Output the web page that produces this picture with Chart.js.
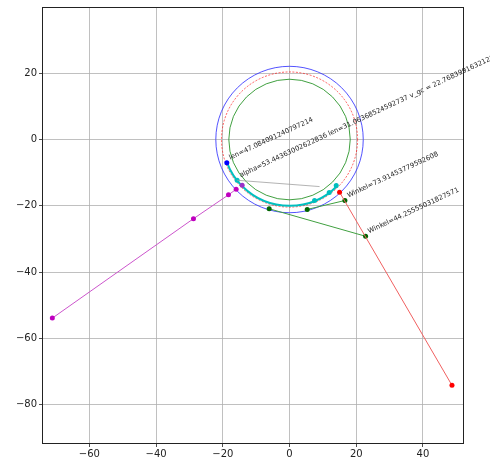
<!DOCTYPE html>
<html>
<head>
<meta charset="utf-8">
<script src="https://cdn.jsdelivr.net/npm/chart.js@4.4.1/dist/chart.umd.min.js"></script>
<style>
  html, body { margin: 0; padding: 0; background: #fff; }
</style>
</head>
<body>
<canvas id="myChart" width="490" height="463"></canvas>
<script>
// tick labels
const xTicks = [-60, -40, -20, 0, 20, 40];
const yTicks = [-80, -60, -40, -20, 0, 20];

// circles around the origin (radius)
const blueCircleR = 22.1;
const redCircleR = 20.4;
const greenCircleR = 18.2;
// cyan arc: radius, start / end angle in degrees
const cyanArcR = 20.0;
const cyanArcAngles = [200.4, 315.2];

// series
const magentaPath = [
    { x: -71.1, y: -53.9 }, { x: -28.8, y: -23.9 },
    { x: -18.3, y: -16.7 }, { x: -16.0, y: -15.0 }
];
const purplePoint = [{ x: -14.2, y: -13.8 }];
const redPath = [{ x: 15.0, y: -15.9 }, { x: 48.7, y: -74.2 }];
const greenPathA = [{ x: -6.1, y: -20.9 }, { x: 22.8, y: -29.2 }];
const greenPathB = [{ x: 5.3, y: -21.1 }, { x: 16.6, y: -18.4 }];
const cyanPoints = [
    { x: -15.7, y: -12.3 }, { x: 7.5, y: -18.4 },
    { x: 11.9, y: -16.0 }, { x: 14.0, y: -13.9 }
];
const bluePoint = [{ x: -18.8, y: -7.0 }];
const grayPath = [{ x: -15.7, y: -12.3 }, { x: 9.0, y: -14.2 }];

// annotations (text, anchor point)
const notes = [
    { text: 'len=47.084091240797214', x: -18.8, y: -7.0 },
    { text: 'alpha=53.44363002622836 len=31.06368524592737 v_gc = 22.768399163212337', x: -15.7, y: -12.3 },
    { text: 'Winkel=73.91453779592608', x: 16.6, y: -18.4 },
    { text: 'Winkel=44.25555031827571', x: 22.8, y: -29.2 }
];

// circles, arc, text and frame drawn through the chart scales
const extras = {
    id: 'extras',
    beforeDatasetsDraw(chart) {
        const { ctx, chartArea: a, scales: { x, y } } = chart;
        const cx = x.getPixelForValue(0), cy = y.getPixelForValue(0);
        const rx = r => x.getPixelForValue(r) - cx;
        const ry = r => cy - y.getPixelForValue(r);
        ctx.save();
        ctx.beginPath();
        ctx.rect(a.left, a.top, a.right - a.left, a.bottom - a.top);
        ctx.clip();

        ctx.lineWidth = 1;
        ctx.strokeStyle = 'rgba(40,40,255,0.8)';
        ctx.beginPath();
        ctx.ellipse(cx, cy, rx(blueCircleR), ry(blueCircleR), 0, 0, Math.PI * 2);
        ctx.stroke();

        ctx.strokeStyle = 'rgba(255,0,0,0.8)';
        ctx.lineWidth = 0.8;
        ctx.setLineDash([2, 1.5]);
        ctx.beginPath();
        ctx.ellipse(cx, cy, rx(redCircleR), ry(redCircleR), 0, 0, Math.PI * 2);
        ctx.stroke();
        ctx.setLineDash([]);

        ctx.strokeStyle = 'rgba(0,128,0,0.75)';
        ctx.lineWidth = 1;
        ctx.beginPath();
        ctx.ellipse(cx, cy, rx(greenCircleR), ry(greenCircleR), 0, 0, Math.PI * 2);
        ctx.stroke();

        // canvas angles run clockwise, data angles counter-clockwise
        const a0 = -cyanArcAngles[1] * Math.PI / 180;
        const a1 = -cyanArcAngles[0] * Math.PI / 180;
        ctx.strokeStyle = '#00bfbf';
        ctx.lineWidth = 2;
        ctx.beginPath();
        ctx.ellipse(cx, cy, rx(cyanArcR), ry(cyanArcR), 0, a0, a1);
        ctx.stroke();
        ctx.restore();
    },
    afterDraw(chart) {
        const { ctx, chartArea: a, scales: { x, y } } = chart;
        ctx.save();
        ctx.fillStyle = '#222';
        ctx.font = '6.8px "DejaVu Sans"';
        ctx.textAlign = 'left';
        ctx.textBaseline = 'alphabetic';
        notes.forEach(n => {
            ctx.save();
            ctx.translate(x.getPixelForValue(n.x) + 3.5, y.getPixelForValue(n.y) - 3);
            ctx.rotate(-25 * Math.PI / 180);
            ctx.fillText(n.text, 0, 0);
            ctx.restore();
        });
        ctx.strokeStyle = '#222';
        ctx.lineWidth = 1;
        ctx.strokeRect(Math.round(a.left) - 0.5, Math.round(a.top) - 0.5,
            Math.round(a.right - a.left) + 1, Math.round(a.bottom - a.top) + 1);
        ctx.restore();
    }
};

function pathSet(data, line, point, width) {
    return {
        data: data,
        showLine: true,
        borderColor: line,
        borderWidth: width,
        backgroundColor: point,
        pointBackgroundColor: point,
        pointBorderWidth: 0,
        pointRadius: 2.5
    };
}

const ctx = document.getElementById('myChart').getContext('2d');
const minus = v => String(v).replace('-', '\u2212');

const myChart = new Chart(ctx, {
    type: 'scatter',
    data: {
        datasets: [
            pathSet(grayPath, '#a0a0a0', 'rgba(0,0,0,0)', 0.8),
            pathSet(magentaPath, '#cc55cc', '#bf00bf', 1),
            pathSet(purplePoint, '#9a30c8', '#9a30c8', 0),
            pathSet(redPath, '#f06060', '#ff0000', 1),
            pathSet(greenPathA, '#40a040', '#006400', 1),
            pathSet(greenPathB, '#40a040', '#006400', 1),
            pathSet(cyanPoints, 'rgba(0,0,0,0)', '#00bfbf', 0),
            pathSet(bluePoint, 'rgba(0,0,0,0)', '#0000ff', 0)
        ]
    },
    options: {
        responsive: false,
        animation: false,
        devicePixelRatio: 1,
        layout: { padding: { top: 5, right: 27, left: 0, bottom: 0 } },
        plugins: { legend: { display: false }, tooltip: { enabled: false } },
        scales: {
            x: {
                type: 'linear',
                min: -73.9,
                max: 52.0,
                afterBuildTicks: s => { s.ticks = xTicks.map(v => ({ value: v })); },
                afterFit: s => { s.height = 20; },
                ticks: {
                    callback: minus,
                    color: '#222',
                    font: { family: 'DejaVu Sans', size: 10 },
                    padding: 1,
                    maxRotation: 0
                },
                grid: { color: '#b0b0b0', lineWidth: 0.8, tickColor: '#222', tickLength: 4 },
                border: { display: false }
            },
            y: {
                type: 'linear',
                min: -91.6,
                max: 39.7,
                afterBuildTicks: s => { s.ticks = yTicks.map(v => ({ value: v })); },
                afterFit: s => { s.width = 43; },
                ticks: {
                    callback: minus,
                    color: '#222',
                    font: { family: 'DejaVu Sans', size: 10 },
                    padding: 2
                },
                grid: { color: '#b0b0b0', lineWidth: 0.8, tickColor: '#222', tickLength: 4 },
                border: { display: false }
            }
        }
    },
    plugins: [extras]
});
</script>
</body>
</html>
